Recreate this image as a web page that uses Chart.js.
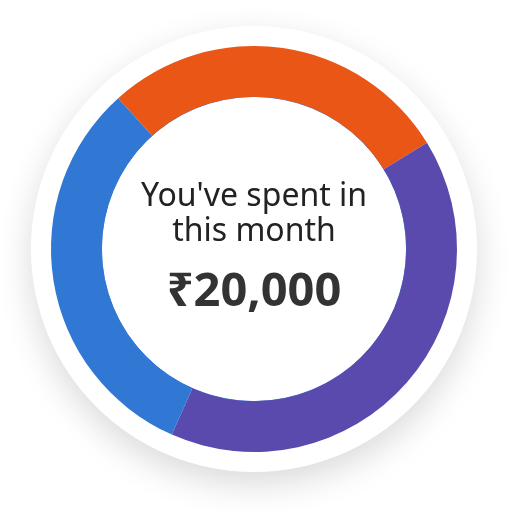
<!DOCTYPE html>
<html>
<head>
<meta charset="utf-8">
<script src="https://cdn.jsdelivr.net/npm/chart.js@4/dist/chart.umd.min.js"></script>
<style>
html,body{margin:0;padding:0;background:#fff;}
#wrap{width:512px;height:512px;position:relative;}
</style>
</head>
<body>
<div id="wrap"><canvas id="c" width="512" height="512"></canvas></div>
<script>
const categories = ["Orange", "Purple", "Blue"];
const spendValues = [5580, 8080, 6340];
const segmentColors = ["#E95616", "#5A4AAD", "#3178D4"];
const centerLine1 = "You've spent in";
const centerLine2 = "this month";
const centerTotal = "₹20,000";

const backdrop = {
  id: 'backdrop',
  beforeDatasetsDraw(chart) {
    const meta = chart.getDatasetMeta(0);
    const arc = meta.data[0];
    if (!arc) return;
    const {x, y, outerRadius, innerRadius} = arc.getProps(['x','y','outerRadius','innerRadius'], true);
    const ctx = chart.ctx;
    ctx.save();
    ctx.beginPath();
    ctx.arc(x, y, outerRadius * 1.099, 0, Math.PI * 2);
    ctx.fillStyle = '#ffffff';
    ctx.shadowColor = 'rgba(0,0,0,0.15)';
    ctx.shadowBlur = 34;
    ctx.shadowOffsetY = 12;
    ctx.fill();
    ctx.restore();
    ctx.save();
    ctx.beginPath();
    ctx.arc(x, y, innerRadius + 0.3, 0, Math.PI * 2);
    ctx.strokeStyle = '#3178D4';
    ctx.lineWidth = 1;
    ctx.stroke();
    ctx.restore();
  },
  afterDatasetsDraw(chart) {
    const arc = chart.getDatasetMeta(0).data[0];
    if (!arc) return;
    const {x, y} = arc.getProps(['x','y'], true);
    const ctx = chart.ctx;
    ctx.save();
    ctx.textAlign = 'center';
    ctx.textBaseline = 'alphabetic';
    ctx.fillStyle = '#222222';
    ctx.font = '400 32px "Noto Sans", "DejaVu Sans", sans-serif';
    ctx.fillText(centerLine1, x, y - 43);
    ctx.fillText(centerLine2, x, y - 8);
    ctx.fillStyle = '#333333';
    ctx.font = '700 47px "Noto Sans", "DejaVu Sans", sans-serif';
    ctx.fillText(centerTotal, x, y + 57);
    ctx.restore();
  }
};

new Chart(document.getElementById('c'), {
  type: 'doughnut',
  data: {
    labels: categories,
    datasets: [{
      data: spendValues,
      backgroundColor: segmentColors,
      borderWidth: 0,
      hoverOffset: 0
    }]
  },
  options: {
    responsive: false,
    animation: false,
    cutout: '75%',
    rotation: -42,
    layout: { padding: { left: 51, right: 55, top: 46, bottom: 60 } },
    plugins: {
      legend: { display: false },
      tooltip: { enabled: false }
    }
  },
  plugins: [backdrop]
});
</script>
</body>
</html>
